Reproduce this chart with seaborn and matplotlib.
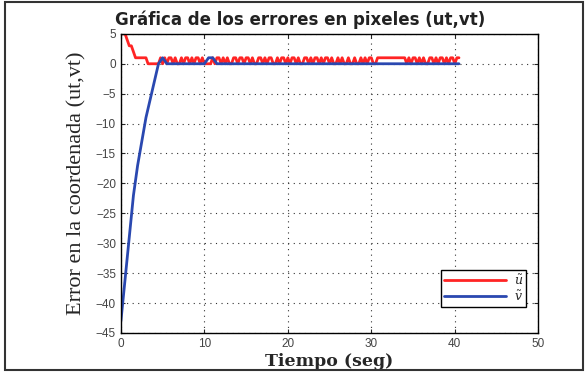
import numpy as np
import pandas as pd
import matplotlib
matplotlib.use("Agg")
import matplotlib.pyplot as plt
import seaborn as sns

# ================================
# DATA
# ================================
# u error sampled every 0.25 s, v error every 0.5 s
tiempo_u = np.arange(0, 40.75, 0.25)
tiempo_v = np.arange(0, 40.75, 0.5)

error_u = [5, 5, 5, 4, 3, 3, 2, 1, 1, 1, 1, 1, 1, 0, 0, 0, 0, 0,
           0, 1, 0, 1, 0, 1, 1, 0, 1, 0, 0, 1, 0, 1, 1, 0, 1, 0, 1, 1,
           0, 1, 0, 0, 0, 0, 1, 0, 1, 1, 0, 1, 0, 1, 0, 0, 1, 1, 0, 1,
           1, 0, 1, 1, 0, 1, 0, 0, 1, 1, 0, 1, 0, 1, 1, 0, 0, 1, 0, 1,
           1, 0, 1, 0, 1, 1, 0, 1, 0, 0, 1, 1, 0, 1, 0, 1, 1, 0, 1, 0,
           1, 1, 0, 1, 0, 0, 1, 0, 1, 0, 0, 1, 0, 0, 1, 0, 0, 1, 0, 1,
           0, 1, 1, 0, 0, 1, 1, 1, 1, 1, 1, 1, 1, 1, 1, 1, 1, 1, 1, 0,
           1, 0, 1, 1, 0, 1, 0, 1, 0, 0, 1, 1, 0, 1, 0, 1, 1, 0, 1, 0,
           1, 1, 0, 1, 1]

error_v = [-43, -36, -29, -22, -17, -13, -9, -6, -3, 0,
           1, 0, 0, 0, 0, 0, 0, 0, 0, 0,
           0, 1, 1, 0, 0, 0, 0, 0, 0, 0,
           0, 0, 0, 0, 0, 0, 0, 0, 0, 0,
           0, 0, 0, 0, 0, 0, 0, 0, 0, 0,
           0, 0, 0, 0, 0, 0, 0, 0, 0, 0,
           0, 0, 0, 0, 0, 0, 0, 0, 0, 0,
           0, 0, 0, 0, 0, 0, 0, 0, 0, 0,
           0, 0]

df_u = pd.DataFrame({"t": tiempo_u, "e": error_u})
df_v = pd.DataFrame({"t": tiempo_v, "e": error_v})

# ================================
# STYLE
# ================================
sns.set_style("white")
plt.rcParams["font.family"] = ["Liberation Sans", "DejaVu Sans"]
plt.rcParams["mathtext.fontset"] = "dejavuserif"

fig = plt.figure(figsize=(5.87, 3.72), dpi=100)
ax = fig.add_axes([0.206, 0.105, 0.711, 0.804])

sns.lineplot(data=df_u, x="t", y="e", ax=ax, color="#ff2424", lw=2.0,
             label=r"$\tilde{u}$")
sns.lineplot(data=df_v, x="t", y="e", ax=ax, color="#2a48b0", lw=2.0,
             label=r"$\tilde{v}$")

ax.set_xlim(0, 50)
ax.set_ylim(-45, 5)
ax.set_xticks([0, 10, 20, 30, 40, 50])
ax.set_yticks(list(range(-45, 6, 5)))
ax.grid(True, linestyle=(0, (1, 4)), color="#333333", linewidth=0.8)
for s in ax.spines.values():
    s.set_visible(True)
    s.set_color("black")
    s.set_linewidth(1.0)
ax.tick_params(direction="in", length=3, labelsize=8.5, labelcolor="#444444",
               top=True, right=True, bottom=True, left=True)

fig.text(0.511, 0.933, "Gráfica de los errores en pixeles (ut,vt)",
         ha="center", va="baseline", family="DejaVu Sans", fontsize=12,
         fontweight="bold", color="#222222")
ax.set_xlabel("Tiempo (seg)", family="DejaVu Serif", fontsize=12.5,
              fontweight="bold", labelpad=2)
ax.set_ylabel("Error en la coordenada (ut,vt)", family="Liberation Serif",
              fontsize=16, labelpad=7)

leg = ax.legend(loc="lower right", bbox_to_anchor=(0.971, 0.087),
                borderaxespad=0, handlelength=5.0, handletextpad=0.6,
                fancybox=False, edgecolor="black", framealpha=1,
                fontsize=9, borderpad=0.25, labelspacing=0.15)
leg.get_frame().set_linewidth(1.0)

# figure border
fig.patches.append(plt.Rectangle((0.008, 0.005), 0.985, 0.99,
                                 transform=fig.transFigure, fill=False,
                                 edgecolor="#333333", linewidth=1.5))

fig.savefig("out.png", dpi=100)
